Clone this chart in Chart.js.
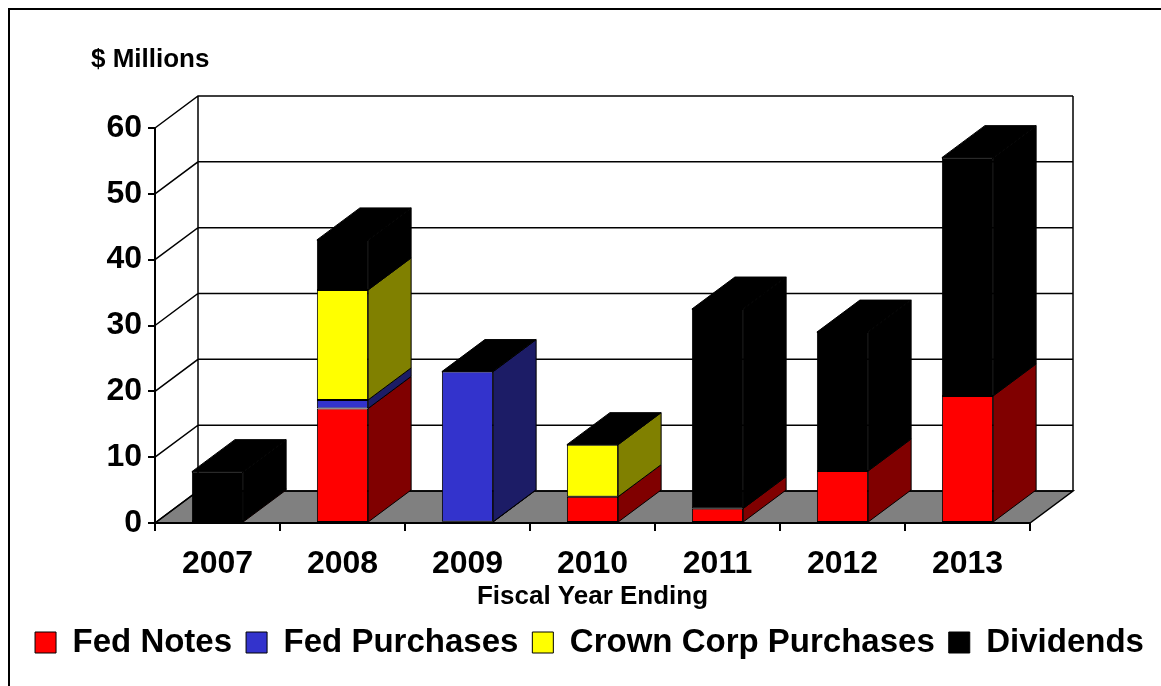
<!DOCTYPE html>
<html lang="en">
<head>
  <meta charset="UTF-8">
  <title>Fed Notes, Purchases and Dividends</title>
  <script src="https://cdn.jsdelivr.net/npm/chart.js"></script>
  <style>
    body {
      margin: 0;
      background: #fff;
    }
    .wrap {
      width: 1161px;
      height: 686px;
    }
  </style>
</head>
<body>

<div class="wrap">
  <canvas id="chart" width="1161" height="686"></canvas>
</div>

<script>
  // values, $ millions
  const years = ['2007', '2008', '2009', '2010', '2011', '2012', '2013'];
  const fedNotes = [0.3, 17.4, 0.2, 4.0, 2.2, 7.9, 19.3];
  const fedPurchases = [null, 1.3, 22.8, null, null, null, null];
  const crownCorp = [null, 16.7, null, 7.9, null, null, null];
  const dividends = [7.5, 7.6, null, null, 30.3, 21.1, 36.2];
  const yTicks = [0, 10, 20, 30, 40, 50, 60];

  const FONT = "'Liberation Sans', Arial, sans-serif";
  const DX = 43, DY = 32;

  Chart.defaults.font.family = FONT;
  Chart.defaults.color = '#000';

  // back wall, left wall, floor and the depth faces of the bars
  const depth3d = {
    id: 'depth3d',
    beforeDraw(chart) {
      const ctx = chart.ctx;
      ctx.save();
      ctx.strokeStyle = '#000';
      ctx.lineWidth = 2;
      ctx.beginPath();
      ctx.moveTo(9, 686);
      ctx.lineTo(9, 9);
      ctx.lineTo(1161, 9);
      ctx.stroke();

      ctx.font = 'bold 26px ' + FONT;
      ctx.fillStyle = '#000';
      ctx.textBaseline = 'middle';
      ctx.fillText('$ Millions', 91, 60);
      ctx.restore();
    },
    beforeDatasetsDraw(chart) {
      const ctx = chart.ctx;
      const a = chart.chartArea;
      const y = chart.scales.y;
      const y0 = y.getPixelForValue(0);
      const yTop = y.getPixelForValue(60);
      ctx.save();
      ctx.strokeStyle = '#000';
      ctx.lineWidth = 1.5;

      // floor
      ctx.fillStyle = '#808080';
      ctx.beginPath();
      ctx.moveTo(a.left, y0);
      ctx.lineTo(a.right, y0);
      ctx.lineTo(a.right + DX, y0 - DY);
      ctx.lineTo(a.left + DX, y0 - DY);
      ctx.closePath();
      ctx.fill();
      ctx.stroke();

      // back wall gridlines + left wall diagonals
      ctx.beginPath();
      yTicks.forEach(v => {
        const py = y.getPixelForValue(v);
        ctx.moveTo(a.left, py);
        ctx.lineTo(a.left + DX, py - DY);
        ctx.lineTo(a.right + DX, py - DY);
      });
      ctx.moveTo(a.left + DX, yTop - DY);
      ctx.lineTo(a.left + DX, y0 - DY);
      ctx.moveTo(a.right + DX, yTop - DY);
      ctx.lineTo(a.right + DX, y0 - DY);
      ctx.stroke();

      // front axis line again over the floor edge
      ctx.lineWidth = 2;
      ctx.beginPath();
      ctx.moveTo(a.left, y0);
      ctx.lineTo(a.right, y0);
      ctx.stroke();
      ctx.restore();
    },
    afterDatasetsDraw(chart) {
      const ctx = chart.ctx;
      const sets = chart.data.datasets;
      const topIdx = years.map((_, i) => {
        let t = -1;
        sets.forEach((ds, d) => { if (ds.data[i] != null) t = d; });
        return t;
      });
      ctx.save();
      ctx.strokeStyle = '#000';
      ctx.lineWidth = 1;
      sets.forEach((ds, d) => {
        chart.getDatasetMeta(d).data.forEach((bar, i) => {
          if (ds.data[i] == null) return;
          const right = bar.x + bar.width / 2;
          const left = bar.x - bar.width / 2;
          ctx.fillStyle = ds.sideColor;
          ctx.beginPath();
          ctx.moveTo(right, bar.base);
          ctx.lineTo(right + DX, bar.base - DY);
          ctx.lineTo(right + DX, bar.y - DY);
          ctx.lineTo(right, bar.y);
          ctx.closePath();
          ctx.fill();
          ctx.stroke();
          if (topIdx[i] === d) {
            ctx.fillStyle = '#000';
            ctx.beginPath();
            ctx.moveTo(left, bar.y);
            ctx.lineTo(left + DX, bar.y - DY);
            ctx.lineTo(right + DX, bar.y - DY);
            ctx.lineTo(right, bar.y);
            ctx.closePath();
            ctx.fill();
            ctx.stroke();
          }
        });
      });
      ctx.restore();
    }
  };

  function barSet(label, data, front, side) {
    return {
      label: label,
      data: data,
      backgroundColor: front,
      sideColor: side,
      borderColor: '#000',
      borderWidth: 1,
      borderSkipped: false,
      barPercentage: 0.41,
      categoryPercentage: 1
    };
  }

  new Chart(document.getElementById('chart'), {
    type: 'bar',
    data: {
      labels: years,
      datasets: [
        barSet('Fed Notes', fedNotes, '#FF0000', '#800000'),
        barSet('Fed Purchases', fedPurchases, '#3333CC', '#1C1C66'),
        barSet('Crown Corp Purchases', crownCorp, '#FFFF00', '#808000'),
        barSet('Dividends', dividends, '#000000', '#000000')
      ]
    },
    options: {
      responsive: false,
      animation: false,
      layout: {
        padding: { top: 128, left: 18, right: 0, bottom: 17 }
      },
      plugins: {
        tooltip: { enabled: false },
        legend: {
          position: 'bottom',
          labels: {
            boxWidth: 21,
            boxHeight: 21,
            padding: 14,
            font: { size: 33, weight: 'bold' }
          }
        }
      },
      scales: {
        x: {
          stacked: true,
          grid: {
            drawOnChartArea: false,
            tickLength: 8,
            color: '#000',
            lineWidth: 2
          },
          border: { display: true, color: '#000', width: 2 },
          ticks: {
            padding: 14,
            font: { size: 32, weight: 'bold' }
          },
          title: {
            display: true,
            text: 'Fiscal Year Ending',
            font: { size: 26, weight: 'bold' },
            padding: { top: 0, bottom: 0 }
          },
          afterFit(scale) { scale.height = 89; }
        },
        y: {
          stacked: true,
          min: 0,
          max: 60,
          ticks: {
            stepSize: 10,
            padding: 6,
            font: { size: 32, weight: 'bold' }
          },
          grid: {
            drawOnChartArea: false,
            tickLength: 7,
            color: '#000',
            lineWidth: 2
          },
          border: { display: true, color: '#000', width: 2 },
          afterFit(scale) { scale.width = 137; }
        },
        rightGap: {
          position: 'right',
          display: true,
          ticks: { display: false },
          grid: { display: false },
          border: { display: false },
          afterFit(scale) { scale.width = 131; }
        }
      }
    },
    plugins: [depth3d]
  });
</script>

</body>
</html>
